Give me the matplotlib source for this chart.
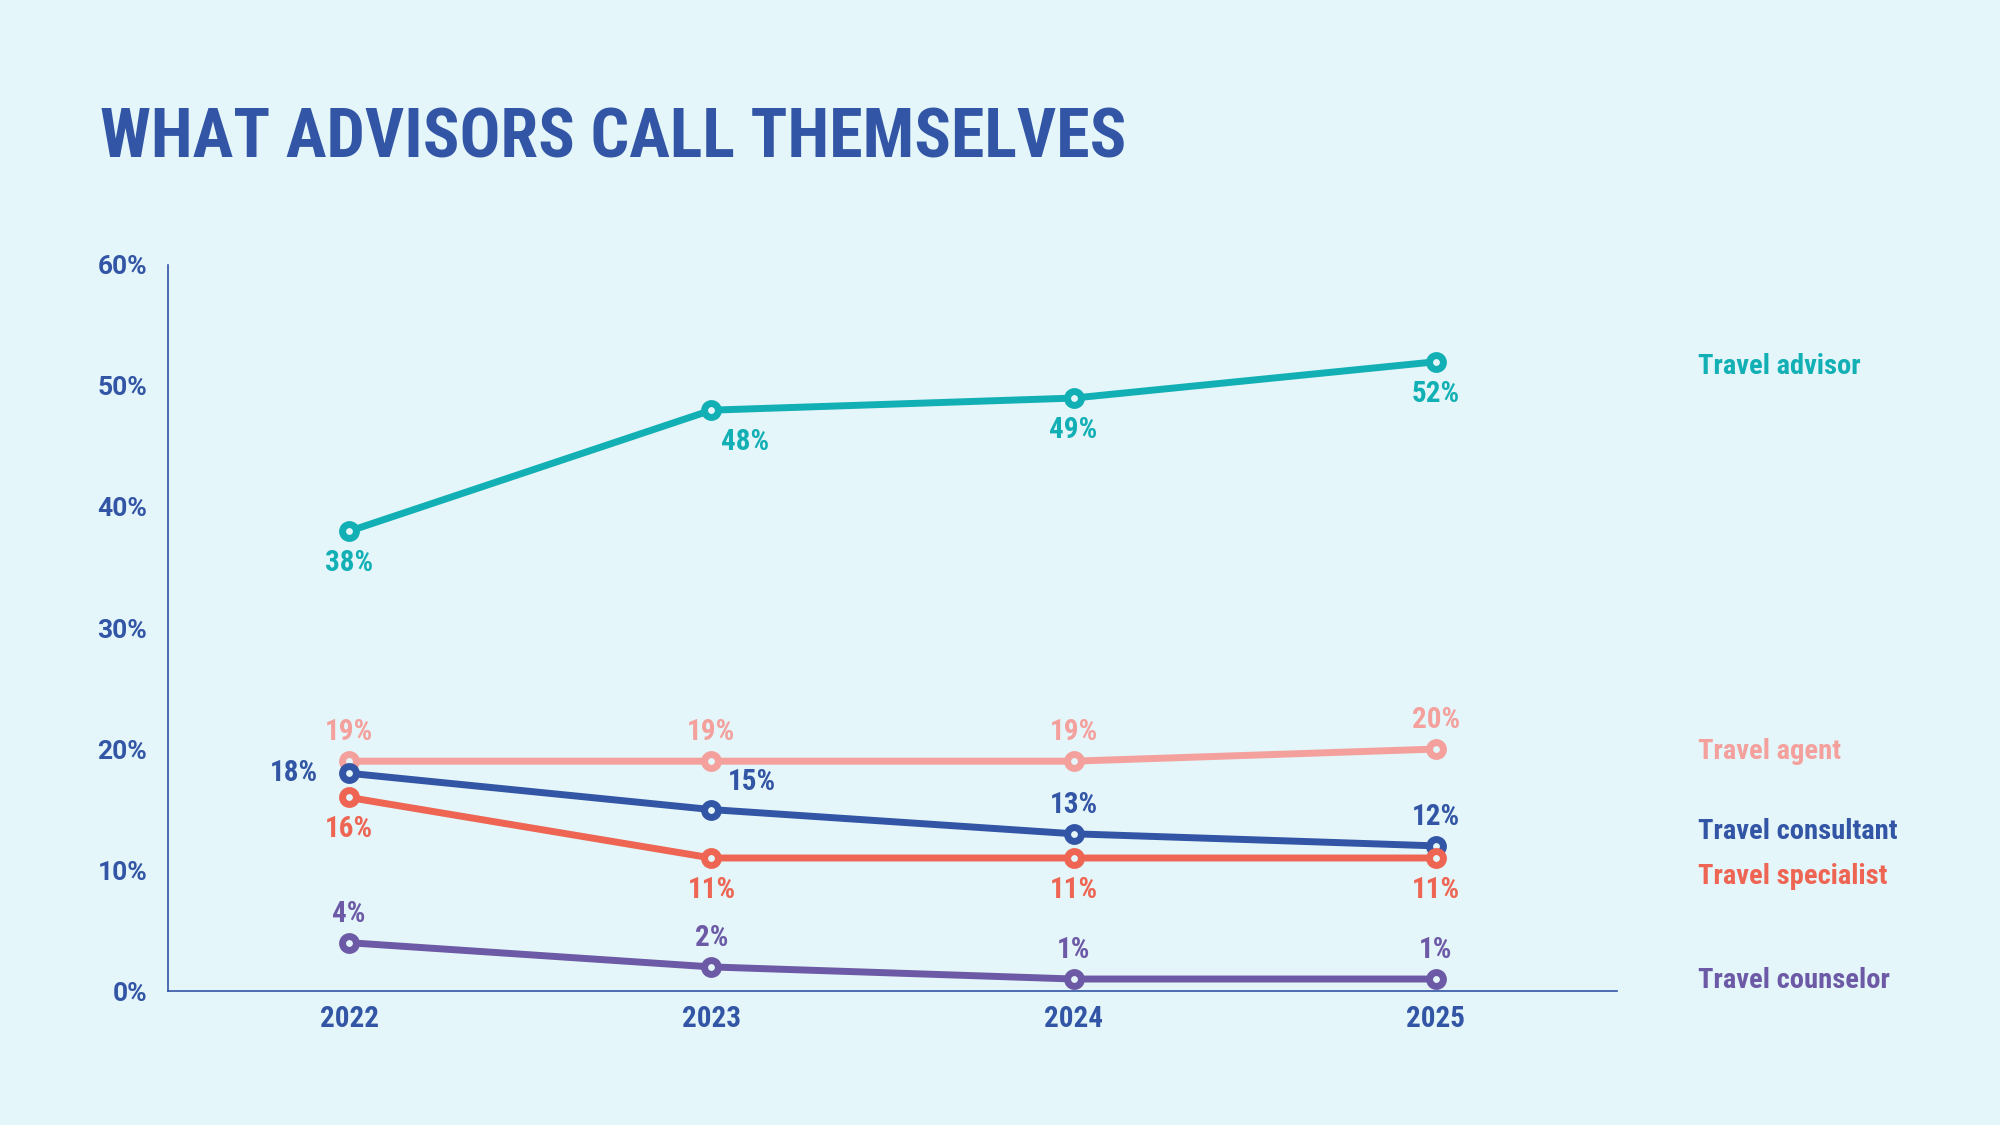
import os
import matplotlib
matplotlib.use("Agg")
import matplotlib.pyplot as plt
from matplotlib import font_manager as fm
from matplotlib.transforms import blended_transform_factory

years = [2022, 2023, 2024, 2025]
names = ["Travel advisor", "Travel agent", "Travel consultant",
         "Travel specialist", "Travel counselor"]
advisor = [38, 48, 49, 52]
agent = [19, 19, 19, 20]
consultant = [18, 15, 13, 12]
specialist = [16, 11, 11, 11]
counselor = [4, 2, 1, 1]
yticks = [0, 10, 20, 30, 40, 50, 60]

BG = "#E4F6F9"
BLUE = "#3355A5"
colors = ["#12B0B5", "#F4A09D", "#3355A5", "#EE6553", "#6D5AA6"]


def pick_font(patterns):
    files = [f.fname for f in fm.fontManager.ttflist]
    for p in patterns:
        for f in files:
            b = os.path.basename(f).lower()
            if p.lower() in b and "italic" not in b:
                return f
    return None


cond = pick_font(["NotoSans-ExtraCondensedBold", "NotoSans-CondensedBold",
                  "RobotoCondensed-Bold", "LiberationSansNarrow-Bold",
                  "DejaVuSansCondensed-Bold"])
if cond:
    fp = lambda s: fm.FontProperties(fname=cond, size=s)
else:
    fp = lambda s: fm.FontProperties(family="DejaVu Sans", weight="bold", size=s * 0.7)
tick_fp = fm.FontProperties(family="Roboto", weight="bold", size=19)

fig = plt.figure(figsize=(20, 11.25), dpi=100, facecolor=BG)
ax = fig.add_axes([0.084, 0.119, 0.7245, 0.6455])
ax.set_facecolor(BG)

series = [advisor, agent, consultant, specialist, counselor]
for vals, c in zip(series, colors):
    ax.plot(years, vals, color=c, lw=5, marker="o", ms=10, mew=5,
            mfc=BG, mec=c, solid_capstyle="round", zorder=3, clip_on=False)

# value label offsets (points)
below = (0, -23)
above = (0, 21)
offsets = [
    [below, (24, -23), below, below],
    [above, above, above, above],
    [(-40, 0), (29, 20), above, above],
    [below, below, below, below],
    [above, above, above, above],
]
for vals, c, offs in zip(series, colors, offsets):
    for x, v, o in zip(years, vals, offs):
        ax.annotate(f"{v}%", (x, v), xytext=o, textcoords="offset points",
                    ha="center", va="center", color=c, fontproperties=fp(21),
                    zorder=4)

ax.set_xlim(2021.5, 2025.5)
ax.set_ylim(0, 60)
ax.set_xticks(years)
ax.set_xticklabels([str(y) for y in years])
ax.set_yticks(yticks)
ax.set_yticklabels([f"{t}%" for t in yticks])
for lab in ax.get_xticklabels():
    lab.set_fontproperties(fp(21))
    lab.set_color(BLUE)
for lab in ax.get_yticklabels():
    lab.set_fontproperties(tick_fp)
    lab.set_color(BLUE)
ax.tick_params(axis="both", length=0)
ax.tick_params(axis="y", pad=15)
ax.tick_params(axis="x", pad=10)
for s in ["top", "right"]:
    ax.spines[s].set_visible(False)
for s in ["left", "bottom"]:
    ax.spines[s].set_color(BLUE)
    ax.spines[s].set_linewidth(1.2)

# series names on the right
name_y = [51.6, 19.8, 13.2, 9.5, 0.9]
tr = blended_transform_factory(fig.transFigure, ax.transData)
for n, c, y in zip(names, colors, name_y):
    ax.text(0.849, y, n, transform=tr, ha="left", va="center", color=c,
            fontproperties=fp(20.5), clip_on=False)

fig.text(0.05, 1 - 158 / 1125, "WHAT ADVISORS CALL THEMSELVES", ha="left",
         va="baseline", color=BLUE, fontproperties=fp(49))

fig.savefig("out.png", dpi=100, facecolor=BG)
